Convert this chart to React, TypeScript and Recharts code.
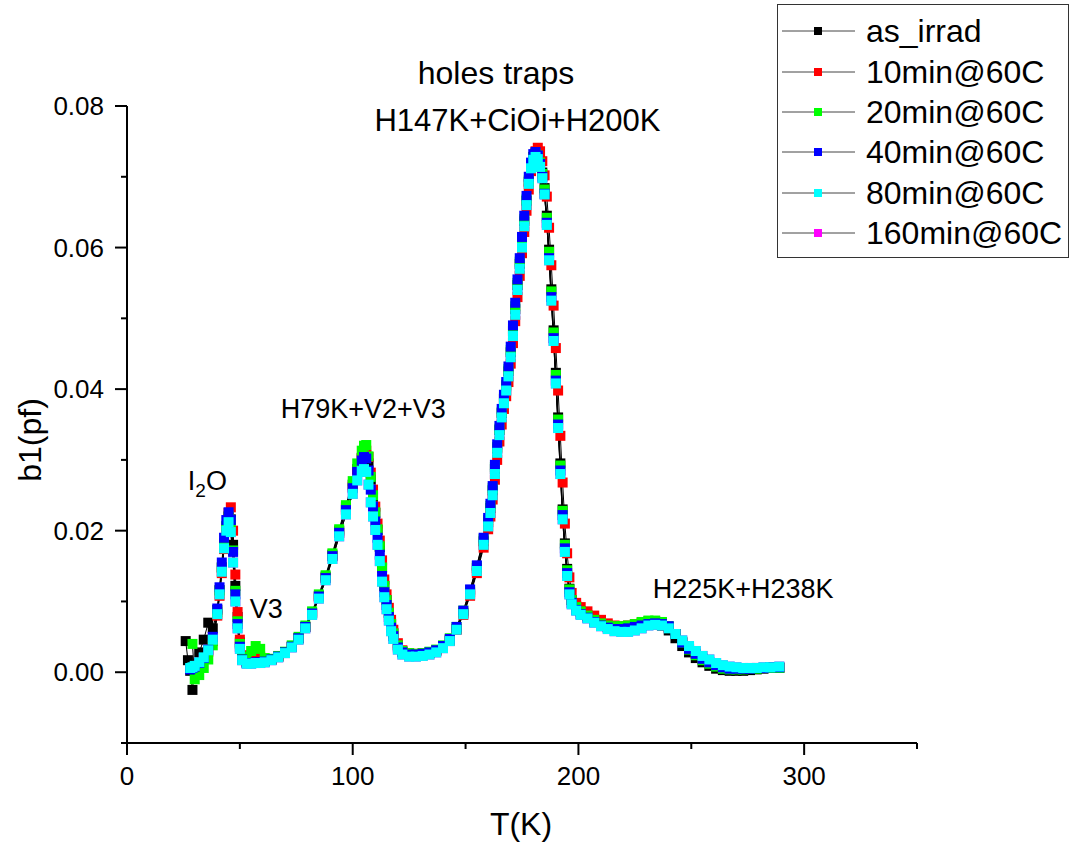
import React from "react";
import { ComposedChart, Line, XAxis, YAxis, ReferenceDot } from "recharts";

const FONT = '"Liberation Sans", Arial, Helvetica, sans-serif';

// temperature grid (K)
const TEMPS = [
  26, 27, 28, 29, 30, 32, 34, 36, 38,
  40, 41, 42, 43, 44, 45, 46, 47, 48, 49, 50, 51,
  53, 55, 57, 59, 61, 64, 67, 70, 73, 76, 79,
  82, 85, 88, 91, 94, 97, 100, 102, 104,
  105, 106, 107, 108, 109, 110, 111, 112, 113, 114, 115, 116, 117, 118,
  120, 122, 125, 128, 131, 134, 137, 140, 143, 146, 149, 152, 155, 158,
  160, 161, 162, 163, 164, 165, 166, 167, 168, 169, 170, 171, 172, 173, 174, 175, 176, 177, 178, 179,
  180, 181, 182, 183, 184, 185, 186, 187, 188, 189, 190, 191, 192, 193, 194, 195, 196, 197,
  199, 201, 204, 207, 210, 213, 216, 219, 222, 225, 228, 231, 234, 237, 240,
  243, 246, 249, 252, 255, 258, 261, 264, 267, 270, 273, 276, 279, 282, 285, 289,
];

const AS_IRRAD = [
  0.0044, 0.0017, 0.0002, -0.0025, 0.0006, 0.0028, 0.0046, 0.007, 0.0062,
  0.0088, 0.0116, 0.0148, 0.018, 0.0206, 0.022, 0.0216, 0.018, 0.0122, 0.0078, 0.0042, 0.0021,
  0.0014, 0.0014, 0.0015, 0.0015, 0.0016, 0.0018, 0.0022, 0.0028, 0.0036, 0.0048, 0.0064,
  0.0084, 0.0108, 0.0135, 0.0166, 0.02, 0.0233, 0.0265, 0.0287, 0.0303,
  0.0308, 0.0307, 0.0295, 0.0272, 0.0248, 0.0225, 0.0201, 0.0177, 0.0148, 0.0122, 0.0102, 0.0084, 0.0068, 0.0055,
  0.0038, 0.0029, 0.0025, 0.0025, 0.0026, 0.0027, 0.003, 0.0035, 0.0045, 0.0061, 0.0084, 0.0113, 0.0147, 0.0185,
  0.0212, 0.0232, 0.0257, 0.0287, 0.0316, 0.0342, 0.0366, 0.0386, 0.0404, 0.0425, 0.0452, 0.0482, 0.0513, 0.0547, 0.0577, 0.0607, 0.0637, 0.0666, 0.0693, 0.0715,
  0.0728, 0.0733, 0.0731, 0.0722, 0.0706, 0.0684, 0.0645, 0.0597, 0.0541, 0.0483, 0.0423, 0.036, 0.0295, 0.023, 0.0182, 0.0146, 0.0118, 0.0102,
  0.0093, 0.0086, 0.008, 0.0074, 0.0068, 0.0064, 0.0062, 0.0061, 0.0062, 0.0064, 0.0066, 0.0068, 0.0068, 0.0066, 0.0059,
  0.0048, 0.0037, 0.0028, 0.002, 0.0014, 0.0009, 0.0005, 0.0003, 0.0002, 0.0002, 0.0002, 0.0003, 0.0004, 0.0005, 0.0006, 0.0006,
];

const MIN10 = [
  null, null, null, null, 0.0006, 0.0012, 0.0019, 0.0029, 0.0044,
  0.008, 0.0108, 0.014, 0.0174, 0.0203, 0.0225, 0.0233, 0.02, 0.0138, 0.0085, 0.0046, 0.0024,
  0.0016, 0.002, 0.0024, 0.0022, 0.0017, 0.0018, 0.0022, 0.0028, 0.0036, 0.0048, 0.0064,
  0.0083, 0.0106, 0.0133, 0.0164, 0.0197, 0.023, 0.0262, 0.0285, 0.0302,
  0.031, 0.0313, 0.0304, 0.0282, 0.0258, 0.0234, 0.021, 0.0186, 0.0158, 0.0131, 0.011, 0.0091, 0.0074, 0.006,
  0.0041, 0.0031, 0.0027, 0.0026, 0.0027, 0.0028, 0.0031, 0.0036, 0.0045, 0.006, 0.0081, 0.0108, 0.014, 0.0176,
  0.0202, 0.022, 0.0244, 0.0272, 0.03, 0.0326, 0.035, 0.0372, 0.039, 0.041, 0.0436, 0.0465, 0.0496, 0.053, 0.056, 0.0592, 0.0622, 0.0652, 0.0682, 0.0708,
  0.0726, 0.0736, 0.0741, 0.0736, 0.0722, 0.0702, 0.0672, 0.0628, 0.0575, 0.0518, 0.0458, 0.0398, 0.0334, 0.0268, 0.021, 0.0168, 0.0134, 0.0112,
  0.0098, 0.0092, 0.0086, 0.008, 0.0074, 0.0069, 0.0066, 0.0065, 0.0066, 0.0068, 0.007, 0.0072, 0.0072, 0.007, 0.0064,
  0.0054, 0.0043, 0.0034, 0.0026, 0.0019, 0.0013, 0.0009, 0.0006, 0.0005, 0.0005, 0.0005, 0.0005, 0.0006, 0.0006, 0.0007, 0.0007,
];

const MIN20 = [
  null, null, null, 0.004, -0.001, -0.0004, 0.0006, 0.0018, 0.0038,
  0.0085, 0.0115, 0.0148, 0.0182, 0.0207, 0.022, 0.0212, 0.0172, 0.0115, 0.0072, 0.004, 0.0022,
  0.002, 0.003, 0.0037, 0.0033, 0.002, 0.0019, 0.0023, 0.0029, 0.0038, 0.005, 0.0066,
  0.0086, 0.011, 0.0137, 0.0168, 0.0202, 0.0236, 0.027, 0.0295, 0.0313,
  0.032, 0.0321, 0.0305, 0.0276, 0.025, 0.0226, 0.0202, 0.0178, 0.0148, 0.0122, 0.0102, 0.0084, 0.0068, 0.0055,
  0.0038, 0.003, 0.0027, 0.0026, 0.0027, 0.0029, 0.0032, 0.0038, 0.0048, 0.0064, 0.0087, 0.0116, 0.015, 0.0188,
  0.0215, 0.0235, 0.026, 0.029, 0.0318, 0.0344, 0.0368, 0.0388, 0.0406, 0.0428, 0.0455, 0.0485, 0.0517, 0.055, 0.058, 0.061, 0.064, 0.0668, 0.0695, 0.0716,
  0.0728, 0.0733, 0.073, 0.072, 0.0704, 0.0682, 0.0642, 0.0594, 0.0538, 0.048, 0.042, 0.0357, 0.0292, 0.0228, 0.018, 0.0144, 0.0117, 0.0102,
  0.0092, 0.0086, 0.008, 0.0074, 0.0069, 0.0066, 0.0065, 0.0065, 0.0066, 0.0068, 0.0071, 0.0073, 0.0073, 0.0071, 0.0065,
  0.0054, 0.0042, 0.0032, 0.0024, 0.0017, 0.0012, 0.0008, 0.0005, 0.0004, 0.0004, 0.0004, 0.0005, 0.0005, 0.0006, 0.0006, 0.0006,
];

const MIN40 = [
  null, null, 0.0004, 0.0006, 0.0008, 0.0013, 0.002, 0.0032, 0.005,
  0.009, 0.012, 0.0155, 0.019, 0.0215, 0.0226, 0.0215, 0.017, 0.011, 0.0068, 0.0036, 0.0018,
  0.0013, 0.0013, 0.0014, 0.0014, 0.0015, 0.0018, 0.0022, 0.0028, 0.0036, 0.0048, 0.0064,
  0.0083, 0.0107, 0.0133, 0.0164, 0.0197, 0.0229, 0.026, 0.0283, 0.0299,
  0.0304, 0.0302, 0.0285, 0.0258, 0.0234, 0.0213, 0.019, 0.0166, 0.0136, 0.0113, 0.0095, 0.0078, 0.0063, 0.0051,
  0.0035, 0.0028, 0.0025, 0.0025, 0.0026, 0.0028, 0.0031, 0.0037, 0.0047, 0.0064, 0.0087, 0.0117, 0.0151, 0.019,
  0.0218, 0.0238, 0.0263, 0.0293, 0.0322, 0.0348, 0.0372, 0.0392, 0.041, 0.0432, 0.046, 0.049, 0.0522, 0.0555, 0.0585, 0.0615, 0.0645, 0.0673, 0.07, 0.072,
  0.0732, 0.0735, 0.073, 0.0718, 0.07, 0.0676, 0.0635, 0.0585, 0.053, 0.0472, 0.0412, 0.035, 0.0285, 0.0222, 0.0175, 0.014, 0.0113, 0.0098,
  0.0088, 0.0082, 0.0077, 0.0071, 0.0066, 0.0063, 0.0061, 0.0061, 0.0062, 0.0064, 0.0066, 0.0068, 0.0069, 0.0068, 0.0065,
  0.0054, 0.0042, 0.0033, 0.0026, 0.0019, 0.0014, 0.001, 0.0007, 0.0005, 0.0005, 0.0005, 0.0005, 0.0006, 0.0006, 0.0007, 0.0007,
];

const MIN80 = [
  null, null, 0.0006, 0.0007, 0.0009, 0.0014, 0.0021, 0.0031, 0.0046,
  0.0082, 0.011, 0.0142, 0.0175, 0.02, 0.0212, 0.0198, 0.0155, 0.01, 0.0062, 0.0033, 0.0017,
  0.0012, 0.0012, 0.0013, 0.0013, 0.0014, 0.0017, 0.0021, 0.0027, 0.0035, 0.0046, 0.0062,
  0.0081, 0.0104, 0.013, 0.016, 0.0192, 0.0223, 0.0252, 0.0271, 0.0284,
  0.0287, 0.0283, 0.0265, 0.024, 0.022, 0.0201, 0.018, 0.0157, 0.0128, 0.0106, 0.0089, 0.0073, 0.0058, 0.0047,
  0.0032, 0.0025, 0.0022, 0.0022, 0.0023, 0.0025, 0.0028, 0.0034, 0.0044, 0.006, 0.0082, 0.011, 0.0143, 0.018,
  0.0206, 0.0225, 0.025, 0.028, 0.031, 0.0335, 0.036, 0.038, 0.0398, 0.0418, 0.0445, 0.0475, 0.0505, 0.054, 0.057, 0.06, 0.063, 0.066, 0.069, 0.0712,
  0.0724, 0.0728, 0.0725, 0.0714, 0.0698, 0.0675, 0.0632, 0.0582, 0.0525, 0.0468, 0.0408, 0.0345, 0.028, 0.0216, 0.017, 0.0136, 0.011, 0.0096,
  0.0087, 0.0081, 0.0076, 0.007, 0.0065, 0.0061, 0.0058, 0.0057, 0.0057, 0.0059, 0.0062, 0.0066, 0.0067, 0.0066, 0.0062,
  0.0054, 0.0045, 0.0037, 0.003, 0.0023, 0.0018, 0.0013, 0.001, 0.0008, 0.0007, 0.0006, 0.0006, 0.0006, 0.0007, 0.0007, 0.0008,
];

// 160min is hidden under the 80min trace in the figure
const MIN160 = [
  null, null, 0.0006, 0.0007, 0.0009, 0.0014, 0.0021, 0.0031, 0.0046,
  0.0082, 0.011, 0.0142, 0.0175, 0.02, 0.0212, 0.0198, 0.0155, 0.01, 0.0062, 0.0033, 0.0017,
  0.0012, 0.0012, 0.0013, 0.0013, 0.0014, 0.0017, 0.0021, 0.0027, 0.0035, 0.0046, 0.0062,
  0.0081, 0.0104, 0.013, 0.016, 0.0192, 0.0223, 0.0252, 0.0271, 0.0284,
  0.0287, 0.0283, 0.0265, 0.024, 0.022, 0.0201, 0.018, 0.0157, 0.0128, 0.0106, 0.0089, 0.0073, 0.0058, 0.0047,
  0.0032, 0.0025, 0.0022, 0.0022, 0.0023, 0.0025, 0.0028, 0.0034, 0.0044, 0.006, 0.0082, 0.011, 0.0143, 0.018,
  0.0206, 0.0225, 0.025, 0.028, 0.031, 0.0335, 0.036, 0.038, 0.0398, 0.0418, 0.0445, 0.0475, 0.0505, 0.054, 0.057, 0.06, 0.063, 0.066, 0.069, 0.0712,
  0.0724, 0.0728, 0.0725, 0.0714, 0.0698, 0.0675, 0.0632, 0.0582, 0.0525, 0.0468, 0.0408, 0.0345, 0.028, 0.0216, 0.017, 0.0136, 0.011, 0.0096,
  0.0087, 0.0081, 0.0076, 0.007, 0.0065, 0.0061, 0.0058, 0.0057, 0.0057, 0.0059, 0.0062, 0.0066, 0.0067, 0.0066, 0.0062,
  0.0054, 0.0045, 0.0037, 0.003, 0.0023, 0.0018, 0.0013, 0.001, 0.0008, 0.0007, 0.0006, 0.0006, 0.0006, 0.0007, 0.0007, 0.0008,
];

const X_TICKS = [0, 50, 100, 150, 200, 250, 300, 350];
const Y_TICKS = [-0.01, 0, 0.01, 0.02, 0.03, 0.04, 0.05, 0.06, 0.07, 0.08];

const SERIES = [
  { key: "as_irrad", name: "as_irrad", color: "#000000", values: AS_IRRAD },
  { key: "m10", name: "10min@60C", color: "#ff0000", values: MIN10 },
  { key: "m20", name: "20min@60C", color: "#00ff00", values: MIN20 },
  { key: "m40", name: "40min@60C", color: "#0000ff", values: MIN40 },
  { key: "m80", name: "80min@60C", color: "#00ffff", values: MIN80 },
  { key: "m160", name: "160min@60C", color: "#ff00ff", values: MIN160 },
];
// plotting order: 80min ends up on top
const DRAW_ORDER = ["m160", "as_irrad", "m10", "m20", "m40", "m80"];

// peak labels, placed in data coordinates (T, b1)
const PEAK_LABELS = [
  { T: 173, y: 0.0765, text: "H147K+CiOi+H200K", size: 31 },
  { T: 104.7, y: 0.0359, text: "H79K+V2+V3", size: 27 },
  { T: 61.7, y: 0.0077, text: "V3", size: 27 },
  { T: 273, y: 0.0105, text: "H225K+H238K", size: 27 },
];
const I2O_LABEL = { T: 35.6, y: 0.0258 };

const data = TEMPS.map((T, i) => {
  const row: any = { T };
  SERIES.forEach((s) => (row[s.key] = s.values[i]));
  return row;
});

const squareDot = (color: string) => (props: any) => {
  const { cx, cy, index } = props;
  if (cx == null || cy == null) return <g key={index} />;
  return <rect key={index} x={cx - 5} y={cy - 5} width={10} height={10} fill={color} />;
};

const XTick = (props: any) => {
  const { x, y, payload } = props;
  const v = payload.value;
  const major = v % 100 === 0;
  return (
    <g>
      <line x1={x} x2={x} y1={y} y2={y + (major ? 12 : 6)} stroke="#000" strokeWidth={2} />
      {major && (
        <text x={x} y={y + 42} textAnchor="middle" fontSize={26} fontFamily={FONT} fill="#000">
          {v}
        </text>
      )}
    </g>
  );
};

const YTick = (props: any) => {
  const { x, y, payload } = props;
  const v = payload.value;
  const n = Math.round(v * 100);
  const major = n >= 0 && n % 2 === 0;
  return (
    <g>
      <line x1={x - (major ? 12 : 6)} x2={x} y1={y} y2={y} stroke="#000" strokeWidth={2} />
      {major && (
        <text x={x - 23} y={y + 9} textAnchor="end" fontSize={26} fontFamily={FONT} fill="#000">
          {v.toFixed(2)}
        </text>
      )}
    </g>
  );
};

const LegendBox = () => (
  <div
    style={{
      position: "absolute",
      left: 777,
      top: 4,
      width: 292,
      height: 254,
      boxSizing: "border-box",
      border: "1px solid #333",
      background: "#fff",
      paddingTop: 6,
      fontFamily: FONT,
      fontSize: 32,
    }}
  >
    {SERIES.map((s) => (
      <div key={s.key} style={{ display: "flex", alignItems: "center", height: 40.4 }}>
        <svg width={88} height={20} style={{ flex: "none" }}>
          <line x1={4} x2={77} y1={10} y2={10} stroke="#444" strokeWidth={1} />
          <rect x={36} y={6} width={8} height={8} fill={s.color} />
        </svg>
        <span style={{ lineHeight: 1, whiteSpace: "nowrap" }}>{s.name}</span>
      </div>
    ))}
  </div>
);

export default function App() {
  return (
    <div style={{ position: "absolute", left: 0, top: 0, width: 1071, height: 843, background: "#fff" }}>
      <ComposedChart
        width={1071}
        height={843}
        data={data}
        margin={{ top: 106, right: 154, bottom: 0, left: 0 }}
      >
        <XAxis
          xAxisId="x"
          dataKey="T"
          type="number"
          domain={[0, 350]}
          ticks={X_TICKS}
          interval={0}
          height={100}
          tickSize={0}
          tickMargin={0}
          tickLine={false}
          tick={<XTick />}
          axisLine={{ stroke: "#000", strokeWidth: 2 }}
          allowDataOverflow
        />
        <XAxis
          xAxisId="top"
          orientation="top"
          type="number"
          domain={[0, 350]}
          height={0}
          tick={false}
          tickLine={false}
          axisLine={{ stroke: "#000", strokeWidth: 2 }}
        />
        <YAxis
          yAxisId="y"
          type="number"
          domain={[-0.01, 0.08]}
          ticks={Y_TICKS}
          interval={0}
          width={127}
          tickSize={0}
          tickMargin={0}
          tickLine={false}
          tick={<YTick />}
          axisLine={{ stroke: "#000", strokeWidth: 2 }}
          allowDataOverflow
        />
        <YAxis
          yAxisId="right"
          orientation="right"
          type="number"
          domain={[-0.01, 0.08]}
          width={0}
          tick={false}
          tickLine={false}
          axisLine={{ stroke: "#000", strokeWidth: 2 }}
        />
        {DRAW_ORDER.map((k) => {
          const s = SERIES.find((d) => d.key === k)!;
          return (
            <Line
              key={s.key}
              xAxisId="x"
              yAxisId="y"
              type="linear"
              dataKey={s.key}
              name={s.name}
              stroke="#000"
              strokeWidth={1}
              dot={squareDot(s.color)}
              activeDot={false}
              isAnimationActive={false}
            />
          );
        })}
        {PEAK_LABELS.map((a) => (
          <ReferenceDot
            key={a.text}
            xAxisId="x"
            yAxisId="y"
            x={a.T}
            y={a.y}
            r={0}
            ifOverflow="visible"
            shape={(p: any) => (
              <text x={p.cx} y={p.cy} textAnchor="middle" fontSize={a.size} fontFamily={FONT} fill="#000">
                {a.text}
              </text>
            )}
          />
        ))}
        <ReferenceDot
          xAxisId="x"
          yAxisId="y"
          x={I2O_LABEL.T}
          y={I2O_LABEL.y}
          r={0}
          ifOverflow="visible"
          shape={(p: any) => (
            <text x={p.cx} y={p.cy} textAnchor="middle" fontSize={27} fontFamily={FONT} fill="#000">
              I
              <tspan fontSize={19} dy={7}>2</tspan>
              <tspan dy={-7}>O</tspan>
            </text>
          )}
        />
      </ComposedChart>
      <div
        style={{
          position: "absolute",
          left: 296,
          width: 400,
          top: 57,
          textAlign: "center",
          fontFamily: FONT,
          fontSize: 32,
          lineHeight: 1,
        }}
      >
        holes traps
      </div>
      <div
        style={{
          position: "absolute",
          left: 421,
          width: 200,
          top: 808,
          textAlign: "center",
          fontFamily: FONT,
          fontSize: 32,
          lineHeight: 1,
        }}
      >
        T(K)
      </div>
      <div
        style={{
          position: "absolute",
          left: -70,
          top: 424,
          width: 200,
          height: 32,
          textAlign: "center",
          fontFamily: FONT,
          fontSize: 32,
          lineHeight: "32px",
          transform: "rotate(-90deg)",
        }}
      >
        b1(pf)
      </div>
      <LegendBox />
    </div>
  );
}
